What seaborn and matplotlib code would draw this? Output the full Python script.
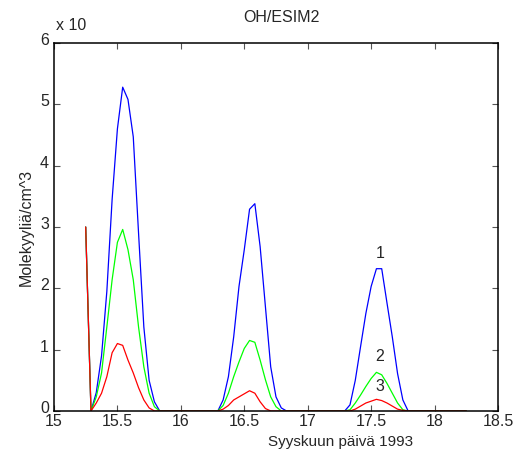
import matplotlib
matplotlib.use("Agg")
import matplotlib.pyplot as plt
import matplotlib.transforms as mtransforms
import pandas as pd
import seaborn as sns

# hourly model output, 15.25 .. 18.25 (73 points)
hours = [15.25 + k / 24 for k in range(73)]

blue = [3.0, 0.0,
        0.30, 0.90, 1.95, 3.45, 4.60, 5.28, 5.08, 4.47, 2.90, 1.37, 0.50, 0.15, 0.0,
        0.0, 0.0, 0.0, 0.0, 0.0, 0.0, 0.0, 0.0, 0.0, 0.0, 0.0,
        0.18, 0.56, 1.21, 2.03, 2.63, 3.29, 3.38, 2.68, 1.70, 0.72, 0.23, 0.05, 0.0,
        0.0, 0.0, 0.0, 0.0, 0.0, 0.0, 0.0, 0.0, 0.0, 0.0, 0.0,
        0.10, 0.50, 1.05, 1.59, 2.03, 2.32, 2.32, 1.76, 1.21, 0.61, 0.18, 0.0, 0.0,
        0.0, 0.0, 0.0, 0.0, 0.0, 0.0, 0.0, 0.0, 0.0, 0.0]

green = [3.0, 0.0,
         0.23, 0.62, 1.37, 2.14, 2.75, 2.96, 2.63, 2.14, 1.37, 0.72, 0.29, 0.07, 0.0,
         0.0, 0.0, 0.0, 0.0, 0.0, 0.0, 0.0, 0.0, 0.0, 0.0, 0.0,
         0.09, 0.29, 0.56, 0.80, 1.02, 1.15, 1.12, 0.83, 0.51, 0.23, 0.07, 0.0, 0.0,
         0.0, 0.0, 0.0, 0.0, 0.0, 0.0, 0.0, 0.0, 0.0, 0.0, 0.0,
         0.02, 0.13, 0.26, 0.40, 0.53, 0.63, 0.59, 0.45, 0.29, 0.13, 0.02, 0.0, 0.0,
         0.0, 0.0, 0.0, 0.0, 0.0, 0.0, 0.0, 0.0, 0.0, 0.0]

red = [3.0, 0.0,
       0.13, 0.29, 0.56, 0.95, 1.10, 1.07, 0.83, 0.62, 0.38, 0.18, 0.05, 0.0, 0.0,
       0.0, 0.0, 0.0, 0.0, 0.0, 0.0, 0.0, 0.0, 0.0, 0.0, 0.0,
       0.03, 0.09, 0.18, 0.23, 0.28, 0.33, 0.29, 0.15, 0.04, 0.0, 0.0, 0.0, 0.0,
       0.0, 0.0, 0.0, 0.0, 0.0, 0.0, 0.0, 0.0, 0.0, 0.0, 0.0,
       0.0, 0.03, 0.08, 0.13, 0.16, 0.19, 0.17, 0.13, 0.08, 0.03, 0.01, 0.0, 0.0,
       0.0, 0.0, 0.0, 0.0, 0.0, 0.0, 0.0, 0.0, 0.0, 0.0]

series_names = ['1', '2', '3']
series_colors = ['#0000ff', '#00ff00', '#ff0000']
label_pos = [(17.57, 2.57), (17.57, 0.89), (17.57, 0.40)]

x_ticks = [15, 15.5, 16, 16.5, 17, 17.5, 18, 18.5]
x_ticklabels = ['15', '15.5', '16', '16.5', '17', '17.5', '18', '18.5']
y_ticks = [0, 1, 2, 3, 4, 5, 6]

df = pd.concat([
    pd.DataFrame({'day': hours, 'conc': vals, 'case': name})
    for name, vals in zip(series_names, [blue, green, red])
], ignore_index=True)

sns.set_style("ticks")
plt.rcParams['font.family'] = ['Liberation Sans', 'DejaVu Sans']
plt.rcParams['xtick.direction'] = 'in'
plt.rcParams['ytick.direction'] = 'in'

fig = plt.figure(figsize=(5.18, 4.59), dpi=100)
ax = fig.add_axes([0.1042, 0.1046, 0.8572, 0.8017])

sns.lineplot(data=df, x='day', y='conc', hue='case', hue_order=series_names,
             palette=series_colors, linewidth=0.9, legend=False, ax=ax,
             estimator=None, sort=False)

for name, (lx, ly) in zip(series_names, label_pos):
    ax.text(lx, ly, name, fontsize=11.5, ha='center', va='center')

ax.set_xlim(15, 18.5)
ax.set_ylim(0, 6)
ax.set_xticks(x_ticks)
ax.set_xticklabels(x_ticklabels)
ax.set_yticks(y_ticks)
ax.tick_params(axis='both', labelsize=11.5, length=4, width=0.8, color='#555555',
               top=True, right=True)
ax.tick_params(axis='x', pad=2)
ax.tick_params(axis='y', pad=3.5)
# MATLAB-style: y tick labels sit a little above their ticks
shift = mtransforms.ScaledTranslation(0, 4 / 100, fig.dpi_scale_trans)
for lab in ax.get_yticklabels():
    lab.set_transform(lab.get_transform() + shift)
for sp in ax.spines.values():
    sp.set_visible(True)
    sp.set_linewidth(1.1)
    sp.set_color('black')

ax.set_xlabel('Syyskuun päivä 1993', fontsize=11)
ax.xaxis.set_label_coords((341 - 54) / 444, -0.065)
ax.set_ylabel('Molekyyliä/cm^3', fontsize=11.5)
ax.yaxis.set_label_coords(-0.045, 0.5)
ax.set_title('OH/ESIM2', fontsize=11.5, x=(281 - 54) / 444, y=1.034)
fig.text(56 / 518, 1 - 25 / 459, 'x 10', fontsize=11.5, ha='left', va='center')

fig.savefig('out.png', dpi=100)
